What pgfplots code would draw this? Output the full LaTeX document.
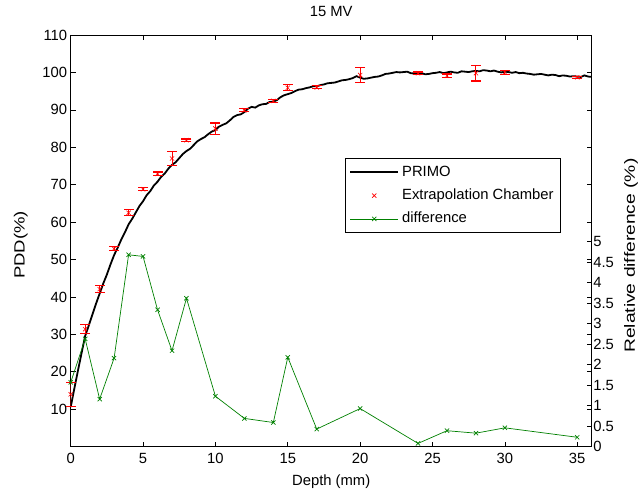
\documentclass[border=0pt]{standalone}
\usepackage{fontspec}
\setmainfont{Liberation Sans}
\newfontfamily\wideA[FakeStretch=1.3]{Liberation Sans}
\newfontfamily\wideB[FakeStretch=1.25]{Liberation Sans}
\usepackage{pgfplots}
\pgfplotsset{compat=1.18}
\usepackage{pgfplotstable}
\newcommand\fs{\fontsize{14.8pt}{17pt}\selectfont}
\definecolor{mgreen}{rgb}{0,0.5,0}

\pgfplotstableread{
x y
0 10.6
0.25 15.5
0.5 20.3
0.75 25.0
1.0 29.6
1.25 32.4
1.5 35.3
1.75 38.2
2.0 40.9
2.25 43.6
2.5 46.0
2.75 48.7
3.0 51.2
3.25 53.2
3.5 55.4
3.75 57.3
4.0 59.4
4.25 60.9
4.5 62.6
4.75 64.3
5.0 65.6
5.25 67.2
5.5 68.3
5.75 69.8
6.0 70.8
6.25 72.1
6.5 73.0
6.75 74.3
7.0 75.3
7.25 76.0
7.5 77.1
7.75 78.2
8.0 79.0
8.25 79.6
8.5 80.6
8.75 81.6
9.0 82.2
9.25 82.7
9.5 83.5
9.75 84.2
10.0 84.6
10.25 85.5
10.5 86.0
10.75 86.4
11.0 87.2
11.25 88.1
11.5 88.6
11.75 88.8
12.0 89.4
12.25 90.3
12.5 90.8
12.75 90.6
13.0 91.2
13.25 91.5
13.5 91.6
13.75 92.1
14.0 92.2
14.25 92.6
14.5 93.4
14.75 93.9
15.0 94.2
15.25 94.5
15.5 95.0
15.75 95.4
16.0 95.5
16.25 95.8
16.5 96.0
16.75 96.3
17.0 96.3
17.25 96.6
17.5 96.8
17.75 97.1
18.0 97.2
18.25 97.3
18.5 97.6
18.75 97.9
19.0 98.0
19.25 98.2
19.5 98.5
19.75 99.0
20.0 98.6
20.25 98.3
20.5 98.4
20.75 98.6
21.0 98.8
21.25 98.9
21.5 99.2
21.75 99.6
22.0 99.7
22.25 99.9
22.5 100.1
22.75 100.0
23.0 100.1
23.25 100.2
23.5 99.8
23.75 99.7
24.0 99.6
24.25 99.8
24.5 99.5
24.75 99.6
25.0 99.8
25.25 99.9
25.5 100.1
25.75 99.8
26.0 100.0
26.25 100.2
26.5 100.0
26.75 99.9
27.0 100.3
27.25 100.2
27.5 100.1
27.75 100.3
28.0 100.4
28.25 100.3
28.5 100.6
28.75 100.5
29.0 100.3
29.25 100.5
29.5 100.2
29.75 100.0
30.0 100.2
30.25 100.1
30.5 99.9
30.75 100.1
31.0 99.8
31.25 99.9
31.5 99.7
31.75 99.6
32.0 99.4
32.25 99.5
32.5 99.6
32.75 99.4
33.0 99.2
33.25 99.4
33.5 99.3
33.75 99.0
34.0 99.2
34.25 99.1
34.5 98.9
34.75 99.0
35.0 98.9
35.25 98.8
35.5 99.2
35.75 98.9
36.0 98.8
}\primo

\pgfplotstableread{
x y e
0 14.0 3.2
1 31.4 1.2
2 42.1 1.0
3 52.9 0.5
4 62.5 0.8
5 68.8 0.4
6 72.9 0.5
7 77.0 1.8
8 81.9 0.3
10 85.0 1.5
12 89.9 0.4
14 92.4 0.4
15 95.9 0.8
17 96.0 0.4
20 99.3 2.0
24 99.8 0.3
26 99.1 0.5
28 99.8 2.1
30 100.0 0.5
35 98.7 0.3
}\chamber

\pgfplotstableread{
x y
0 1.57
1 2.63
2 1.16
3 2.16
4 4.68
5 4.64
6 3.34
7 2.34
8 3.62
10 1.23
12 0.69
14 0.59
15 2.18
17 0.43
20 0.93
24 0.08
26 0.39
28 0.33
30 0.46
35 0.23
}\diff

\begin{document}
\begin{tikzpicture}
\path[use as bounding box] (-70.7pt,-43.3pt) rectangle (567.3pt,446.7pt);
\begin{axis}[
  at={(0,0)}, anchor=south west,
  scale only axis, width=521pt, height=411.7pt,
  xmin=0, xmax=36, ymin=0, ymax=110,
  xtick={0,5,10,15,20,25,30,35},
  ytick={10,20,30,40,50,60,70,80,90,100,110},
  tick align=inside, major tick length=5pt,
  xtick pos=both, xticklabel pos=lower,
  ytick pos=both, yticklabel pos=left,
  tick style={black, line width=0.7pt},
  axis line style={line width=0.7pt},
  /pgf/number format/assume math mode=true,
  tick label style={font=\fs},
  xticklabel style={yshift=-3pt},
  title={15 MV},
  title style={font=\fs, at={(axis description cs:0.5,1.0437)}, anchor=center},
  xlabel={Depth (mm)},
  xlabel style={font=\fs, at={(axis description cs:0.5,-0.085)}, anchor=center},
  ylabel={\wideB PDD(\%)},
  ylabel style={font=\fs, at={(axis description cs:-0.096,0.49)}, anchor=center, rotate=0},
  legend image code/.code={\draw[mark repeat=2,mark phase=2,#1] plot coordinates {(0pt,0pt) (24pt,0pt) (48pt,0pt)};},
  legend cell align=left,
  legend style={at={(axis description cs:0.5265,0.7005)}, anchor=north west,
    font=\fs, draw=black, line width=0.7pt, inner xsep=4pt, inner ysep=2pt,
    nodes={text height=10.5pt, text depth=3pt, inner ysep=4.9pt, inner xsep=3pt}},
]
\addplot[black, line width=1.8pt] table[x=x,y=y] {\primo};
\addlegendentry{PRIMO}
\addplot[only marks, mark=x, red, mark size=3pt, line width=0.6pt,
  error bars/.cd, y dir=both, y explicit, error mark=none,
  error bar style={draw=red, line width=0.9pt}]
  table[x=x,y=y,y error=e] {\chamber};
\addlegendentry{Extrapolation Chamber}
\addplot[only marks, mark=-, mark size=5pt, color=red, mark options={draw=red, line width=1.2pt}, forget plot]
  table[x=x, y expr=\thisrow{y}+\thisrow{e}] {\chamber};
\addplot[only marks, mark=-, mark size=5pt, color=red, mark options={draw=red, line width=1.2pt}, forget plot]
  table[x=x, y expr=\thisrow{y}-\thisrow{e}] {\chamber};
\addlegendimage{mgreen, line width=0.7pt, mark=x, mark size=3pt}
\addlegendentry{difference}
\end{axis}
\begin{axis}[
  at={(0,0)}, anchor=south west,
  scale only axis, width=521pt, height=411.7pt,
  xmin=0, xmax=36, ymin=0, ymax=10.04,
  hide x axis,
  axis y line*=right,
  ytick={0,0.5,1,1.5,2,2.5,3,3.5,4,4.5,5},
  yticklabels={0,0.5,1,1.5,2,2.5,3,3.5,4,4.5,5},
  tick align=inside, major tick length=5pt,
  tick style={black, line width=0.7pt},
  axis line style={line width=0.7pt},
  yticklabel style={font=\fs, inner xsep=1.5pt},
  ylabel={\wideA Relative difference (\%)},
  ylabel style={font=\fs, at={(axis description cs:1.0755,0.464)}, anchor=center, rotate=0},
]
\addplot[mgreen, line width=0.7pt, mark=x, mark size=3pt] table[x=x,y=y] {\diff};
\end{axis}
\end{tikzpicture}
\end{document}
